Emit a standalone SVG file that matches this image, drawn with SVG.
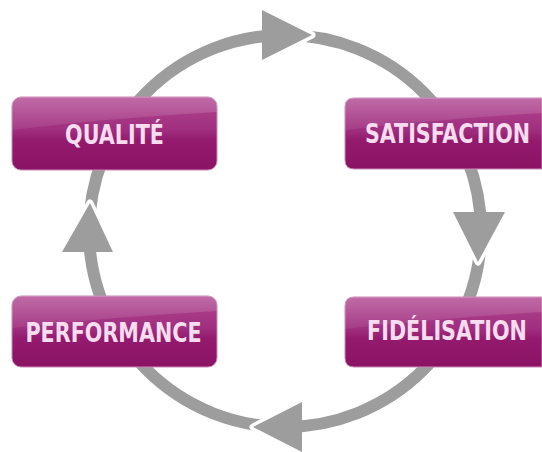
<svg xmlns="http://www.w3.org/2000/svg" width="542" height="452" viewBox="0 0 542 452">
<defs>
<linearGradient id="g" x1="0" y1="0" x2="0" y2="1">
<stop offset="0" stop-color="#b04690"/>
<stop offset="0.45" stop-color="#a02f7f"/>
<stop offset="0.6" stop-color="#931a6d"/>
<stop offset="1" stop-color="#8b1364"/>
</linearGradient>
<linearGradient id="hl" x1="0" y1="0" x2="0" y2="1">
<stop offset="0" stop-color="#ffffff" stop-opacity="0.2"/>
<stop offset="1" stop-color="#ffffff" stop-opacity="0.06"/>
</linearGradient>
</defs>
<style>
.box{fill:url(#g);stroke:#c98ab8;stroke-width:1}
.hl{fill:url(#hl)}
.lbl{font-family:"DejaVu Sans Condensed","DejaVu Sans",sans-serif;font-weight:bold;font-size:23px;fill:#f8dcf0;text-anchor:middle}
.ring{fill:none;stroke:#9d9d9d;stroke-width:12}
.head{fill:#9d9d9d}
.cut{fill:none;stroke:#ffffff;stroke-width:7;stroke-linejoin:round}
</style>
<rect width="542" height="452" fill="#ffffff"/>
<g id="connectors">
<circle class="ring" cx="285" cy="231" r="196"/>
<polyline class="cut" points="262,10 312,35 262,60"/>
<polygon class="head" points="262,10 312,35 262,60"/>
<polyline class="cut" points="453,212 478,262 505,212"/>
<polygon class="head" points="453,212 478,262 505,212"/>
<polyline class="cut" points="302,402 253,427 302,452"/>
<polygon class="head" points="302,402 253,427 302,452"/>
<polyline class="cut" points="62,252 90,203 113,252"/>
<polygon class="head" points="62,252 90,203 113,252"/>
</g>
<g id="qualite">
<rect class="box" x="12" y="97" width="205" height="73" rx="9"/>
<path class="hl" d="M12,130 L12,106 Q12,97 21,97 L208,97 Q217,97 217,106 L217,112 Q110,118 12,130 Z"/>
<text class="lbl" transform="translate(114.5,144) scale(1,1.13)">QUALITÉ</text>
</g>
<g id="satisfaction">
<path class="box" d="M354,98 L542,98 L542,169 L354,169 Q345,169 345,160 L345,107 Q345,98 354,98 Z"/>
<path class="hl" d="M345,130 L345,107 Q345,98 354,98 L542,98 L542,113 Q443,119 345,130 Z"/>
<text class="lbl" transform="translate(447.5,143) scale(1,1.13)">SATISFACTION</text>
</g>
<g id="performance">
<rect class="box" x="12" y="296" width="205" height="71" rx="9"/>
<path class="hl" d="M12,328 L12,305 Q12,296 21,296 L208,296 Q217,296 217,305 L217,311 Q110,317 12,328 Z"/>
<text class="lbl" transform="translate(113.5,342) scale(1,1.13)">PERFORMANCE</text>
</g>
<g id="fidelisation">
<path class="box" d="M354,297 L542,297 L542,367 L354,367 Q345,367 345,358 L345,306 Q345,297 354,297 Z"/>
<path class="hl" d="M345,329 L345,306 Q345,297 354,297 L542,297 L542,312 Q443,318 345,329 Z"/>
<text class="lbl" transform="translate(447,340) scale(1,1.13)">FIDÉLISATION</text>
</g>
</svg>
